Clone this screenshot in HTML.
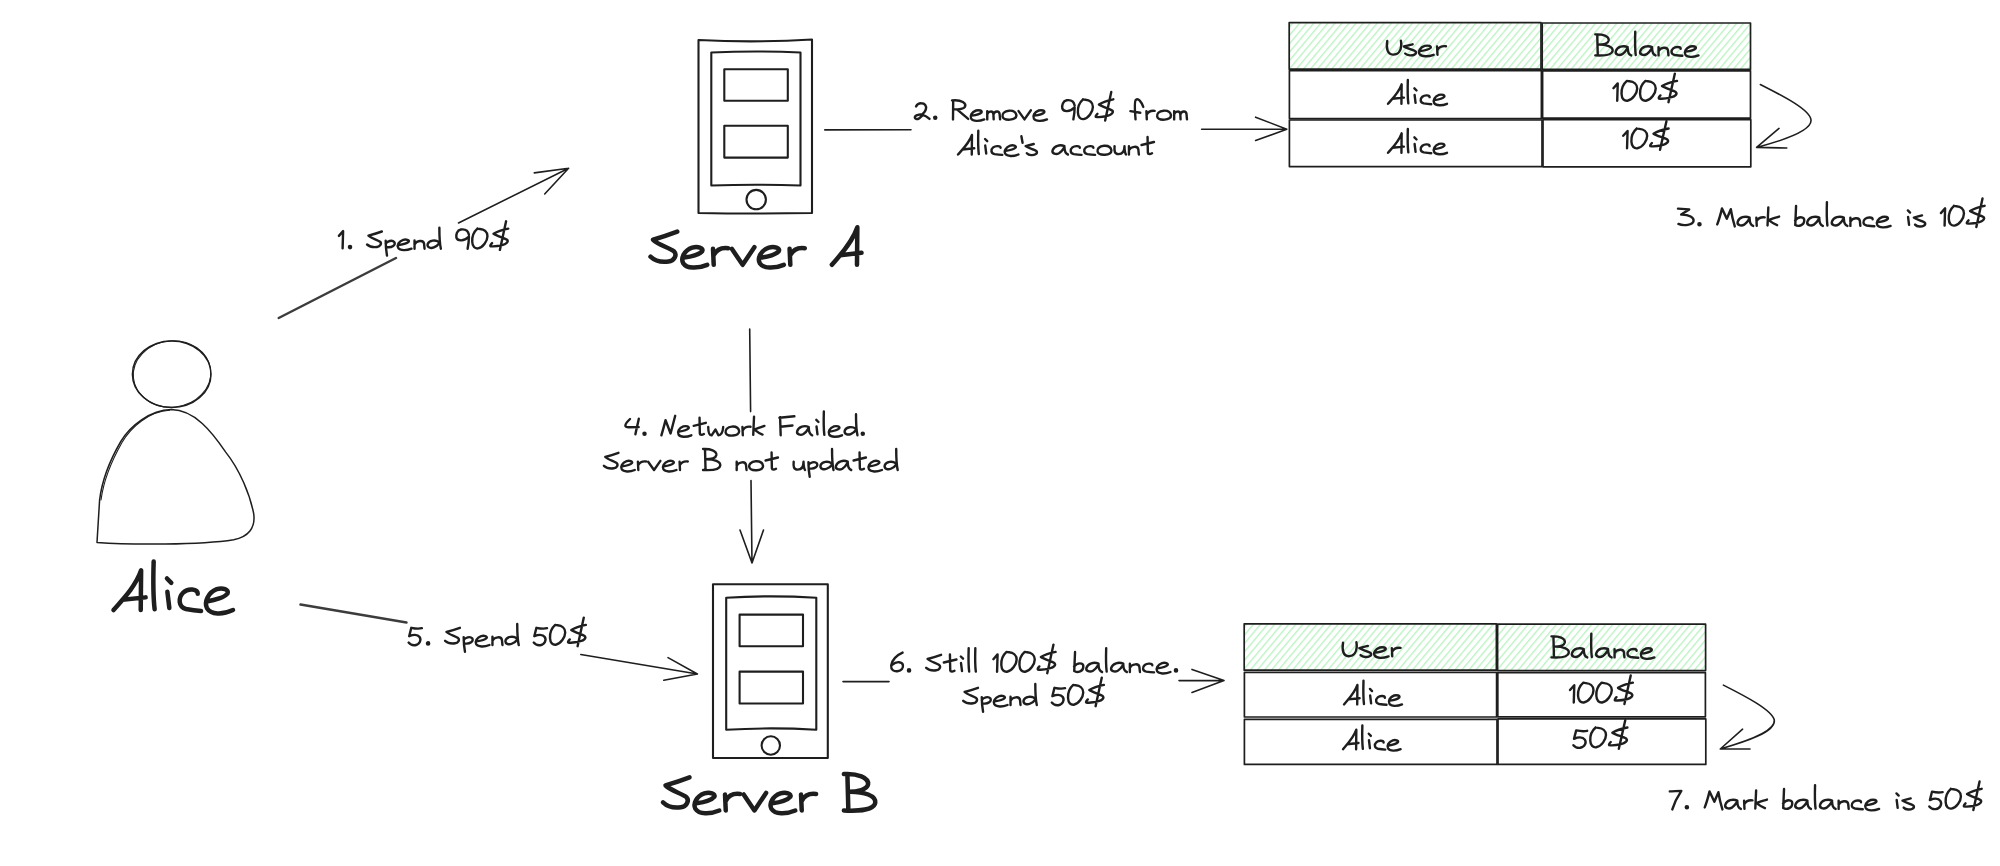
<!DOCTYPE html>
<html>
<head>
<meta charset="utf-8">
<style>
html,body{margin:0;padding:0;background:#fff;}
body{width:2000px;height:866px;overflow:hidden;}
svg{display:block;}
text{font-family:"Liberation Sans",sans-serif;fill:#1e1e1e;}
.t path{vector-effect:non-scaling-stroke;}
</style>
</head>
<body>
<svg width="2000" height="866" viewBox="0 0 2000 866">
<defs>
<pattern id="hach" patternUnits="userSpaceOnUse" width="5.4" height="20" patternTransform="rotate(40)">
<rect x="0" y="0" width="1.4" height="20" fill="#bdf2c4"/>
</pattern>
</defs>
<rect width="2000" height="866" fill="#fff"/>

<!-- ============ shapes ============ -->
<g fill="none" stroke="#1e1e1e" stroke-width="2.1" stroke-linecap="round" stroke-linejoin="round">
<!-- Server A device -->
<path d="M698.5,40 Q755,43 812,39.5 L812,213 Q755,214 698.5,213 Z"/>
<path d="M711.3,52.5 Q756,50.5 800.5,52.5 L800.5,185.5 Q756,184 711.3,185.5 Z"/>
<rect x="724.3" y="69.2" width="63.5" height="31.6"/>
<rect x="724.3" y="125.8" width="63.5" height="31.8"/>
<circle cx="756.2" cy="199.6" r="9.7"/>

<!-- Server B device -->
<path d="M713,584.3 L827.8,584.3 L827.8,758 L713,758 Z"/>
<path d="M726.2,597.7 Q771,595 816.3,597.7 L816.3,729.8 Q771,727 726.2,729.8 Z"/>
<rect x="739.6" y="614.6" width="63.4" height="31.6"/>
<rect x="739.6" y="671.6" width="63.4" height="31.9"/>
<circle cx="770.8" cy="745.5" r="9.2"/>
</g>

<!-- Alice -->
<g fill="none" stroke="#1e1e1e" stroke-width="1.5" stroke-linecap="round" stroke-linejoin="round">
<ellipse cx="171.7" cy="374.2" rx="39.3" ry="33.3"/>
<ellipse cx="172" cy="374" rx="38.8" ry="33.2" transform="rotate(-6 172 374)" stroke-width="1.1"/>
<path d="M171.3,409.6 C150,410 130,426 120.8,441.5 C110,460 102,480 99.6,500 L97,542.4 C130,545 200,545 233.7,539.7 C248,537 256,528 253.6,513.2 C250,495 240,470 225.7,452.1 C212,432 195,410 171.3,409.6 Z"/>
<path d="M169.5,410.3 C149,411.5 131,427 122,442.5 C111.5,461 103.5,481 101,500" stroke-width="1.1"/>
</g>

<!-- Tables -->
<g stroke="#1e1e1e" stroke-width="1.7" stroke-linejoin="round">
<rect x="1289.2" y="22.6" width="251.8" height="46.6" fill="url(#hach)"/>
<rect x="1542.2" y="23.0" width="208.3" height="46.4" fill="url(#hach)"/>
<rect x="1289.4" y="70.6" width="252.0" height="48.0" fill="none"/>
<rect x="1542.6" y="70.8" width="207.9" height="47.4" fill="none"/>
<rect x="1289.4" y="120.0" width="252.6" height="46.6" fill="none"/>
<rect x="1543.0" y="119.6" width="207.8" height="47.2" fill="none"/>
<rect x="1244.2" y="623.8" width="252.2" height="46.4" fill="url(#hach)"/>
<rect x="1497.6" y="624.2" width="208.0" height="46.4" fill="url(#hach)"/>
<rect x="1244.4" y="672.4" width="252.2" height="44.6" fill="none"/>
<rect x="1497.8" y="672.6" width="207.6" height="44.2" fill="none"/>
<rect x="1244.4" y="719.3" width="252.6" height="45.1" fill="none"/>
<rect x="1498.0" y="718.9" width="207.8" height="45.5" fill="none"/>
</g>

<!-- Arrows -->
<g fill="none" stroke="#1e1e1e" stroke-width="1.6" stroke-linecap="round" stroke-linejoin="round">
<!-- 1 -->
<path d="M278.7,318 L396,258" stroke="#3c3c3c" stroke-width="2.5"/>
<path d="M458.5,223 L568.6,168.3 M534.3,172.9 L568.6,168.3 L544.7,194"/>
<!-- 2 -->
<path d="M824.8,129.9 L911,129.7 M1201.6,129.2 L1286.8,129.2 M1255.6,117.2 L1286.8,129.2 L1255.6,140.5"/>
<!-- 3 curved -->
<path d="M1760.3,84.5 C1785,97 1810,110 1811,120 C1812,130 1785,140 1756.6,147.4 M1786.8,148 L1756.6,147.4 L1779,128.4"/>
<!-- 4 -->
<path d="M749.7,329 L750.6,411.6 M751,480.6 L752,563 M740,530 L752,563 L763.5,530"/>
<!-- 5 -->
<path d="M300.5,604.6 L406.5,622.6" stroke="#3c3c3c" stroke-width="2.5"/>
<path d="M580.8,654.5 L697.4,674 M668,657.6 L697.4,674 L663.8,680.3"/>
<!-- 6 -->
<path d="M843,681.6 L889,681.6 M1179,680.6 L1224,680.6 M1192,669.4 L1224,680.6 L1192,692.4"/>
<!-- 7 curved -->
<path d="M1723.4,685.1 C1745,696 1772,710 1774.3,720 C1776,732 1745,742 1720.3,749 M1750,749 L1720.3,749 L1742.6,729.2"/>
</g>

<g class="t" fill="none" stroke="#1e1e1e" stroke-width="2.4" stroke-linecap="round" stroke-linejoin="round">
<g transform="translate(338.50,248.70) scale(1.0017,1.0000)"><path transform="translate(0.00,0)" d="M0.4,-12.8 L4.6,-17.6 L4.1,-0.3"/><path transform="translate(8.00,0)" d="M3.5,-1.6 m-1.1,0 a1.1,1.1 0 1,0 2.2,0 a1.1,1.1 0 1,0 -2.2,0"/><path transform="translate(28.50,0)" d="M14.8,-17.2 C10,-15.5 5,-14 1.4,-13 C4,-10.5 10,-9 13,-7 C15,-5 13,-2 10,-1.7 C7,-1.3 3,-1.5 0,-4.2"/><path transform="translate(45.60,0)" d="M1.5,-7.88 C1.5,-2.49 2,2.49 2.8,6.8 M1.5,-4.98 C3,-7.47 8,-9.13 10,-6.64 C12,-4.15 8,-0.41 2,-1.66"/><path transform="translate(58.60,0)" d="M1.5,-3.73 C5,-4.15 10,-5.39 11.5,-7.05 C12.5,-8.71 9,-9.7 6,-8.9 C1.5,-7.47 -0.5,-3.32 1,-0.83 C3,2.07 9,2.07 14.3,0"/><path transform="translate(74.90,0)" d="M1,-8.3 L1,0 M1,-4.15 C3,-8.3 10,-9.13 10.5,-4.98 L11,0"/><path transform="translate(88.20,0)" d="M12,-6.64 C9,-9.13 2,-8.71 0.8,-4.56 C0,-1.24 4,0 7,-1.24 C9,-2.07 11,-3.32 12,-4.98 M12.5,-21 C12.5,-14 12.8,-4.98 14,0"/><path transform="translate(117.20,0)" d="M13,-14 C12,-19 8,-19.6 5,-19.2 C1,-18.5 0,-14 0.5,-11 C1.5,-7.5 8,-7 13,-12 C13,-8 12.5,-4 11.7,0"/><path transform="translate(133.20,0)" d="M5.5,-20.1 C2,-17 0,-12 0.3,-7 C0.5,-2 3,0 6,-0.3 C11,-1 15.5,-8 15.5,-12.5 C15.5,-17 12,-19.5 8,-19.7 C7,-19.7 6,-19.9 5.5,-20.1"/><path transform="translate(151.20,0)" d="M18.2,-20.1 C13,-19 7,-17 3.6,-14.9 C7,-12.5 14,-11 17,-9 C19,-7 16,-4.5 13,-3.8 C9,-2.8 3,-2 0.5,-2.5 C0,-3 1,-4.5 2.1,-5.6 M16.1,-27.4 L9.9,1.2"/></g>
<g transform="translate(914.00,119.40) scale(0.9873,1.0000)"><path transform="translate(0.00,0)" d="M2.1,-13 C3.5,-15.5 5.5,-16.2 7.3,-16.1 C11,-16 13,-13.5 12,-10 C11.5,-8 10,-6.5 8.7,-5.2 C6,-5 1,-4.5 0.8,-2.2 C0.8,-0.5 3,0 4.5,-0.6 C6.5,-1.5 7.5,-3.5 9,-4.3 C11.5,-4 14,-2 15.7,-0.5"/><path transform="translate(18.00,0)" d="M3.5,-1.6 m-1.1,0 a1.1,1.1 0 1,0 2.2,0 a1.1,1.1 0 1,0 -2.2,0"/><path transform="translate(38.50,0)" d="M1.2,-18.5 L1,0 M0,-19 C10,-20 15,-16 13,-12.5 C11,-10 6,-10 2,-10 M5,-10 L16.4,-0.5"/><path transform="translate(56.90,0)" d="M1.5,-3.73 C5,-4.15 10,-5.39 11.5,-7.05 C12.5,-8.71 9,-9.7 6,-8.9 C1.5,-7.47 -0.5,-3.32 1,-0.83 C3,2.07 9,2.07 14.3,0"/><path transform="translate(73.20,0)" d="M1,-8.3 L1,0 M1,-4.98 C2,-8.3 6.5,-9.13 7.2,-5.39 L7.5,0 M7.5,-5.39 C8.5,-8.3 13,-9.13 13.5,-5.39 L14,0"/><path transform="translate(89.20,0)" d="M7,-8.71 C2,-8.71 0,-4.98 0.5,-2.9 C1,-0.41 5,0.41 8,0.25 C12,0 14.7,-1.66 14.5,-4.15 C14,-7.47 11,-8.96 7,-8.71"/><path transform="translate(105.90,0)" d="M0,-8.3 L6,0 L12.5,-9.13"/><path transform="translate(120.40,0)" d="M1.5,-3.73 C5,-4.15 10,-5.39 11.5,-7.05 C12.5,-8.71 9,-9.7 6,-8.9 C1.5,-7.47 -0.5,-3.32 1,-0.83 C3,2.07 9,2.07 14.3,0"/><path transform="translate(149.70,0)" d="M13,-14 C12,-19 8,-19.6 5,-19.2 C1,-18.5 0,-14 0.5,-11 C1.5,-7.5 8,-7 13,-12 C13,-8 12.5,-4 11.7,0"/><path transform="translate(165.70,0)" d="M5.5,-20.1 C2,-17 0,-12 0.3,-7 C0.5,-2 3,0 6,-0.3 C11,-1 15.5,-8 15.5,-12.5 C15.5,-17 12,-19.5 8,-19.7 C7,-19.7 6,-19.9 5.5,-20.1"/><path transform="translate(183.70,0)" d="M18.2,-20.1 C13,-19 7,-17 3.6,-14.9 C7,-12.5 14,-11 17,-9 C19,-7 16,-4.5 13,-3.8 C9,-2.8 3,-2 0.5,-2.5 C0,-3 1,-4.5 2.1,-5.6 M16.1,-27.4 L9.9,1.2"/><path transform="translate(219.20,0)" d="M13,-12.5 C11,-18 8,-21.5 5.5,-19.5 C4,-18 4.5,-8.3 5.2,0 M0,-8.22 L10,-6.64"/><path transform="translate(234.20,0)" d="M1.2,-8.3 L1.6,0 M1.6,-4.98 C3,-7.47 5,-9.13 9.6,-8.55"/><path transform="translate(245.80,0)" d="M7,-8.71 C2,-8.71 0,-4.98 0.5,-2.9 C1,-0.41 5,0.41 8,0.25 C12,0 14.7,-1.66 14.5,-4.15 C14,-7.47 11,-8.96 7,-8.71"/><path transform="translate(262.50,0)" d="M1,-8.3 L1,0 M1,-4.98 C2,-8.3 6.5,-9.13 7.2,-5.39 L7.5,0 M7.5,-5.39 C8.5,-8.3 13,-9.13 13.5,-5.39 L14,0"/></g>
<g transform="translate(958.00,154.50) scale(0.9904,1.0000)"><path transform="translate(0.00,0)" d="M0,0 C4,-4.5 11,-11 14.1,-19.5 L13.9,0 M4.6,-5 L16.4,-6.2"/><path transform="translate(18.40,0)" d="M2.1,-23.8 C1.8,-14 2,-4.98 2.6,-0.41"/><path transform="translate(25.00,0)" d="M2.3,-15.5 L4.5,-13.3 M2.5,-8.96 L3.5,-1"/><path transform="translate(33.00,0)" d="M10,-6.64 C10,-8.71 5,-9.13 2.5,-7.05 C0,-4.98 0,-1.24 4,-0.41 C7,0 9.5,0.25 11.7,0.41"/><path transform="translate(46.70,0)" d="M1.5,-3.73 C5,-4.15 10,-5.39 11.5,-7.05 C12.5,-8.71 9,-9.7 6,-8.9 C1.5,-7.47 -0.5,-3.32 1,-0.83 C3,2.07 9,2.07 14.3,0"/><path transform="translate(63.00,0)" d="M1,-18.2 L2.2,-11.7"/><path transform="translate(68.00,0)" d="M8.5,-10.5 C6,-9.8 3,-9 0.3,-8.3 C3,-6 10,-5 11.5,-3 C12.5,-0.5 9,0.8 6,0.6 C4,0.5 2.5,-0.2 1.5,-1.3"/><path transform="translate(95.00,0)" d="M12.5,-8.3 C8,-10.3 2,-8.8 0.5,-4.15 C-0.5,-0.83 4,0.41 7,-1.24 C9,-2.49 11,-4.98 12.5,-7.47 C12.5,-4.15 13.5,-0.83 16,0"/><path transform="translate(113.00,0)" d="M10,-6.64 C10,-8.71 5,-9.13 2.5,-7.05 C0,-4.98 0,-1.24 4,-0.41 C7,0 9.5,0.25 11.7,0.41"/><path transform="translate(126.70,0)" d="M10,-6.64 C10,-8.71 5,-9.13 2.5,-7.05 C0,-4.98 0,-1.24 4,-0.41 C7,0 9.5,0.25 11.7,0.41"/><path transform="translate(140.40,0)" d="M7,-8.71 C2,-8.71 0,-4.98 0.5,-2.9 C1,-0.41 5,0.41 8,0.25 C12,0 14.7,-1.66 14.5,-4.15 C14,-7.47 11,-8.96 7,-8.71"/><path transform="translate(157.10,0)" d="M1,-8.3 C0.5,-3.32 1,-0.41 5,-0.41 C9,-0.41 11,-3.32 11,-8.3 C11,-4.98 11.5,-1.66 12.5,0"/><path transform="translate(171.60,0)" d="M1,-8.3 L1,0 M1,-4.15 C3,-8.3 10,-9.13 10.5,-4.98 L11,0"/><path transform="translate(184.90,0)" d="M6.5,-17.5 L6.8,-1.66 C7,0 9.5,-0.41 11,-1.24 M0.4,-9.5 L13,-12.5"/></g>
<g transform="translate(1677.60,225.90) scale(0.9981,1.0000)"><path transform="translate(0.00,0)" d="M0.4,-17.3 L11.6,-16.5 L3.6,-11.3 C12,-11.5 16.4,-8 16,-5 C15.5,-1 6,0.5 0.8,-2"/><path transform="translate(18.40,0)" d="M3.5,-1.6 m-1.1,0 a1.1,1.1 0 1,0 2.2,0 a1.1,1.1 0 1,0 -2.2,0"/><path transform="translate(38.90,0)" d="M0.8,-1.5 C3,-7 4.5,-13 5.6,-17.5 L10.4,-7.1 L14.4,-16.7 C15.5,-10 17,-4 18.4,0.5"/><path transform="translate(59.70,0)" d="M12.5,-8.3 C8,-10.3 2,-8.8 0.5,-4.15 C-0.5,-0.83 4,0.41 7,-1.24 C9,-2.49 11,-4.98 12.5,-7.47 C12.5,-4.15 13.5,-0.83 16,0"/><path transform="translate(77.70,0)" d="M1.2,-8.3 L1.6,0 M1.6,-4.98 C3,-7.47 5,-9.13 9.6,-8.55"/><path transform="translate(89.30,0)" d="M1.6,-18.5 L0.8,-0.41 M12.4,-9.38 C8,-7.88 4,-6.64 2,-5.73 C5,-3.32 8,-1.66 10.4,-0.75"/><path transform="translate(116.70,0)" d="M2,-20 L1.2,-0.83 M1,-5.39 C3,-7.88 6,-9.13 8.5,-8.3 C11,-7.47 11,-1.66 6.5,-0.41 C4,0.41 2,-0.41 1.2,-1.24"/><path transform="translate(129.50,0)" d="M12.5,-8.3 C8,-10.3 2,-8.8 0.5,-4.15 C-0.5,-0.83 4,0.41 7,-1.24 C9,-2.49 11,-4.98 12.5,-7.47 C12.5,-4.15 13.5,-0.83 16,0"/><path transform="translate(147.50,0)" d="M2.1,-23.8 C1.8,-14 2,-4.98 2.6,-0.41"/><path transform="translate(154.10,0)" d="M12.5,-8.3 C8,-10.3 2,-8.8 0.5,-4.15 C-0.5,-0.83 4,0.41 7,-1.24 C9,-2.49 11,-4.98 12.5,-7.47 C12.5,-4.15 13.5,-0.83 16,0"/><path transform="translate(172.10,0)" d="M1,-8.3 L1,0 M1,-4.15 C3,-8.3 10,-9.13 10.5,-4.98 L11,0"/><path transform="translate(185.40,0)" d="M10,-6.64 C10,-8.71 5,-9.13 2.5,-7.05 C0,-4.98 0,-1.24 4,-0.41 C7,0 9.5,0.25 11.7,0.41"/><path transform="translate(199.10,0)" d="M1.5,-3.73 C5,-4.15 10,-5.39 11.5,-7.05 C12.5,-8.71 9,-9.7 6,-8.9 C1.5,-7.47 -0.5,-3.32 1,-0.83 C3,2.07 9,2.07 14.3,0"/><path transform="translate(228.40,0)" d="M2.3,-15.5 L4.5,-13.3 M2.5,-8.96 L3.5,-1"/><path transform="translate(236.40,0)" d="M8.5,-10.5 C6,-9.8 3,-9 0.3,-8.3 C3,-6 10,-5 11.5,-3 C12.5,-0.5 9,0.8 6,0.6 C4,0.5 2.5,-0.2 1.5,-1.3"/><path transform="translate(263.40,0)" d="M0.4,-12.8 L4.6,-17.6 L4.1,-0.3"/><path transform="translate(271.40,0)" d="M5.5,-20.1 C2,-17 0,-12 0.3,-7 C0.5,-2 3,0 6,-0.3 C11,-1 15.5,-8 15.5,-12.5 C15.5,-17 12,-19.5 8,-19.7 C7,-19.7 6,-19.9 5.5,-20.1"/><path transform="translate(289.40,0)" d="M18.2,-20.1 C13,-19 7,-17 3.6,-14.9 C7,-12.5 14,-11 17,-9 C19,-7 16,-4.5 13,-3.8 C9,-2.8 3,-2 0.5,-2.5 C0,-3 1,-4.5 2.1,-5.6 M16.1,-27.4 L9.9,1.2"/></g>
<g transform="translate(624.70,435.30) scale(0.9658,1.0000)"><path transform="translate(0.00,0)" d="M5.5,-16.3 C3,-14 0.5,-11.5 0.7,-9.5 C1,-8 2,-8 4,-8 L14.5,-8.2 M14.6,-16.6 C13.5,-11 12,-6 11.1,-1"/><path transform="translate(17.00,0)" d="M3.5,-1.6 m-1.1,0 a1.1,1.1 0 1,0 2.2,0 a1.1,1.1 0 1,0 -2.2,0"/><path transform="translate(37.50,0)" d="M0.5,0 C2,-5 3.5,-10 4.8,-15.2 L10,-1.8 L14.8,-19.5"/><path transform="translate(54.70,0)" d="M1.5,-3.73 C5,-4.15 10,-5.39 11.5,-7.05 C12.5,-8.71 9,-9.7 6,-8.9 C1.5,-7.47 -0.5,-3.32 1,-0.83 C3,2.07 9,2.07 14.3,0"/><path transform="translate(71.00,0)" d="M6.5,-17.5 L6.8,-1.66 C7,0 9.5,-0.41 11,-1.24 M0.4,-9.5 L13,-12.5"/><path transform="translate(86.00,0)" d="M0.5,-8.3 C0.5,-3.32 1,0 4,0 L8,-5.81 L11,0 C14,0 15.5,-2.49 16,-8.3"/><path transform="translate(104.00,0)" d="M7,-8.71 C2,-8.71 0,-4.98 0.5,-2.9 C1,-0.41 5,0.41 8,0.25 C12,0 14.7,-1.66 14.5,-4.15 C14,-7.47 11,-8.96 7,-8.71"/><path transform="translate(120.70,0)" d="M1.2,-8.3 L1.6,0 M1.6,-4.98 C3,-7.47 5,-9.13 9.6,-8.55"/><path transform="translate(132.30,0)" d="M1.6,-18.5 L0.8,-0.41 M12.4,-9.38 C8,-7.88 4,-6.64 2,-5.73 C5,-3.32 8,-1.66 10.4,-0.75"/><path transform="translate(159.70,0)" d="M1.2,-18 L1.8,0 M0.5,-17.5 L16,-19 M1.6,-8.5 L14,-9.8"/><path transform="translate(178.10,0)" d="M12.5,-8.3 C8,-10.3 2,-8.8 0.5,-4.15 C-0.5,-0.83 4,0.41 7,-1.24 C9,-2.49 11,-4.98 12.5,-7.47 C12.5,-4.15 13.5,-0.83 16,0"/><path transform="translate(196.10,0)" d="M2.3,-15.5 L4.5,-13.3 M2.5,-8.96 L3.5,-1"/><path transform="translate(204.10,0)" d="M2.1,-23.8 C1.8,-14 2,-4.98 2.6,-0.41"/><path transform="translate(210.70,0)" d="M1.5,-3.73 C5,-4.15 10,-5.39 11.5,-7.05 C12.5,-8.71 9,-9.7 6,-8.9 C1.5,-7.47 -0.5,-3.32 1,-0.83 C3,2.07 9,2.07 14.3,0"/><path transform="translate(227.00,0)" d="M12,-6.64 C9,-9.13 2,-8.71 0.8,-4.56 C0,-1.24 4,0 7,-1.24 C9,-2.07 11,-3.32 12,-4.98 M12.5,-21 C12.5,-14 12.8,-4.98 14,0"/><path transform="translate(243.00,0)" d="M3.5,-1.6 m-1.1,0 a1.1,1.1 0 1,0 2.2,0 a1.1,1.1 0 1,0 -2.2,0"/></g>
<g transform="translate(603.90,470.00) scale(0.9829,1.0000)"><path transform="translate(0.00,0)" d="M14.8,-17.2 C10,-15.5 5,-14 1.4,-13 C4,-10.5 10,-9 13,-7 C15,-5 13,-2 10,-1.7 C7,-1.3 3,-1.5 0,-4.2"/><path transform="translate(17.10,0)" d="M1.5,-3.73 C5,-4.15 10,-5.39 11.5,-7.05 C12.5,-8.71 9,-9.7 6,-8.9 C1.5,-7.47 -0.5,-3.32 1,-0.83 C3,2.07 9,2.07 14.3,0"/><path transform="translate(33.40,0)" d="M1.2,-8.3 L1.6,0 M1.6,-4.98 C3,-7.47 5,-9.13 9.6,-8.55"/><path transform="translate(45.00,0)" d="M0,-8.3 L6,0 L12.5,-9.13"/><path transform="translate(59.50,0)" d="M1.5,-3.73 C5,-4.15 10,-5.39 11.5,-7.05 C12.5,-8.71 9,-9.7 6,-8.9 C1.5,-7.47 -0.5,-3.32 1,-0.83 C3,2.07 9,2.07 14.3,0"/><path transform="translate(75.80,0)" d="M1.2,-8.3 L1.6,0 M1.6,-4.98 C3,-7.47 5,-9.13 9.6,-8.55"/><path transform="translate(100.40,0)" d="M2.5,-19.5 L3,0 M0.5,-21 C8,-21.5 14.5,-19 14,-15 C13.5,-12 8,-10.8 3,-10.8 C12,-11 18.5,-8.5 18,-4.5 C17.5,-0.5 9,0.5 0.5,0"/><path transform="translate(134.10,0)" d="M1,-8.3 L1,0 M1,-4.15 C3,-8.3 10,-9.13 10.5,-4.98 L11,0"/><path transform="translate(147.40,0)" d="M7,-8.71 C2,-8.71 0,-4.98 0.5,-2.9 C1,-0.41 5,0.41 8,0.25 C12,0 14.7,-1.66 14.5,-4.15 C14,-7.47 11,-8.96 7,-8.71"/><path transform="translate(164.10,0)" d="M6.5,-17.5 L6.8,-1.66 C7,0 9.5,-0.41 11,-1.24 M0.4,-9.5 L13,-12.5"/><path transform="translate(192.10,0)" d="M1,-8.3 C0.5,-3.32 1,-0.41 5,-0.41 C9,-0.41 11,-3.32 11,-8.3 C11,-4.98 11.5,-1.66 12.5,0"/><path transform="translate(206.60,0)" d="M1.5,-7.88 C1.5,-2.49 2,2.49 2.8,6.8 M1.5,-4.98 C3,-7.47 8,-9.13 10,-6.64 C12,-4.15 8,-0.41 2,-1.66"/><path transform="translate(219.60,0)" d="M12,-6.64 C9,-9.13 2,-8.71 0.8,-4.56 C0,-1.24 4,0 7,-1.24 C9,-2.07 11,-3.32 12,-4.98 M12.5,-21 C12.5,-14 12.8,-4.98 14,0"/><path transform="translate(235.60,0)" d="M12.5,-8.3 C8,-10.3 2,-8.8 0.5,-4.15 C-0.5,-0.83 4,0.41 7,-1.24 C9,-2.49 11,-4.98 12.5,-7.47 C12.5,-4.15 13.5,-0.83 16,0"/><path transform="translate(253.60,0)" d="M6.5,-17.5 L6.8,-1.66 C7,0 9.5,-0.41 11,-1.24 M0.4,-9.5 L13,-12.5"/><path transform="translate(268.60,0)" d="M1.5,-3.73 C5,-4.15 10,-5.39 11.5,-7.05 C12.5,-8.71 9,-9.7 6,-8.9 C1.5,-7.47 -0.5,-3.32 1,-0.83 C3,2.07 9,2.07 14.3,0"/><path transform="translate(284.90,0)" d="M12,-6.64 C9,-9.13 2,-8.71 0.8,-4.56 C0,-1.24 4,0 7,-1.24 C9,-2.07 11,-3.32 12,-4.98 M12.5,-21 C12.5,-14 12.8,-4.98 14,0"/></g>
<g transform="translate(408.60,645.00) scale(0.9994,1.0000)"><path transform="translate(0.00,0)" d="M13.3,-16.8 C10,-16 6,-16.5 2.7,-17.2 L0.6,-8.8 C4,-10.3 9,-11 11,-8 C13,-5 11,-0.5 6.5,0.2 C4,0.5 1.5,-0.5 0,-2.4"/><path transform="translate(16.00,0)" d="M3.5,-1.6 m-1.1,0 a1.1,1.1 0 1,0 2.2,0 a1.1,1.1 0 1,0 -2.2,0"/><path transform="translate(36.50,0)" d="M14.8,-17.2 C10,-15.5 5,-14 1.4,-13 C4,-10.5 10,-9 13,-7 C15,-5 13,-2 10,-1.7 C7,-1.3 3,-1.5 0,-4.2"/><path transform="translate(53.60,0)" d="M1.5,-7.88 C1.5,-2.49 2,2.49 2.8,6.8 M1.5,-4.98 C3,-7.47 8,-9.13 10,-6.64 C12,-4.15 8,-0.41 2,-1.66"/><path transform="translate(66.60,0)" d="M1.5,-3.73 C5,-4.15 10,-5.39 11.5,-7.05 C12.5,-8.71 9,-9.7 6,-8.9 C1.5,-7.47 -0.5,-3.32 1,-0.83 C3,2.07 9,2.07 14.3,0"/><path transform="translate(82.90,0)" d="M1,-8.3 L1,0 M1,-4.15 C3,-8.3 10,-9.13 10.5,-4.98 L11,0"/><path transform="translate(96.20,0)" d="M12,-6.64 C9,-9.13 2,-8.71 0.8,-4.56 C0,-1.24 4,0 7,-1.24 C9,-2.07 11,-3.32 12,-4.98 M12.5,-21 C12.5,-14 12.8,-4.98 14,0"/><path transform="translate(125.20,0)" d="M13.3,-16.8 C10,-16 6,-16.5 2.7,-17.2 L0.6,-8.8 C4,-10.3 9,-11 11,-8 C13,-5 11,-0.5 6.5,0.2 C4,0.5 1.5,-0.5 0,-2.4"/><path transform="translate(141.20,0)" d="M5.5,-20.1 C2,-17 0,-12 0.3,-7 C0.5,-2 3,0 6,-0.3 C11,-1 15.5,-8 15.5,-12.5 C15.5,-17 12,-19.5 8,-19.7 C7,-19.7 6,-19.9 5.5,-20.1"/><path transform="translate(159.20,0)" d="M18.2,-20.1 C13,-19 7,-17 3.6,-14.9 C7,-12.5 14,-11 17,-9 C19,-7 16,-4.5 13,-3.8 C9,-2.8 3,-2 0.5,-2.5 C0,-3 1,-4.5 2.1,-5.6 M16.1,-27.4 L9.9,1.2"/></g>
<g transform="translate(890.80,672.00) scale(1.0074,1.0000)"><path transform="translate(0.00,0)" d="M11.7,-19.4 C6,-17 1,-12 0.4,-6.5 C0,-2 3,-0.5 6.5,-0.8 C11,-1.2 12.5,-4 12,-7 C11.5,-10 6,-11.5 1.3,-7"/><path transform="translate(14.60,0)" d="M3.5,-1.6 m-1.1,0 a1.1,1.1 0 1,0 2.2,0 a1.1,1.1 0 1,0 -2.2,0"/><path transform="translate(35.10,0)" d="M14.8,-17.2 C10,-15.5 5,-14 1.4,-13 C4,-10.5 10,-9 13,-7 C15,-5 13,-2 10,-1.7 C7,-1.3 3,-1.5 0,-4.2"/><path transform="translate(52.20,0)" d="M6.5,-17.5 L6.8,-1.66 C7,0 9.5,-0.41 11,-1.24 M0.4,-9.5 L13,-12.5"/><path transform="translate(67.20,0)" d="M2.3,-15.5 L4.5,-13.3 M2.5,-8.96 L3.5,-1"/><path transform="translate(75.20,0)" d="M2.1,-23.8 C1.8,-14 2,-4.98 2.6,-0.41"/><path transform="translate(81.80,0)" d="M2.1,-23.8 C1.8,-14 2,-4.98 2.6,-0.41"/><path transform="translate(101.40,0)" d="M0.4,-12.8 L4.6,-17.6 L4.1,-0.3"/><path transform="translate(109.40,0)" d="M5.5,-20.1 C2,-17 0,-12 0.3,-7 C0.5,-2 3,0 6,-0.3 C11,-1 15.5,-8 15.5,-12.5 C15.5,-17 12,-19.5 8,-19.7 C7,-19.7 6,-19.9 5.5,-20.1"/><path transform="translate(127.40,0)" d="M5.5,-20.1 C2,-17 0,-12 0.3,-7 C0.5,-2 3,0 6,-0.3 C11,-1 15.5,-8 15.5,-12.5 C15.5,-17 12,-19.5 8,-19.7 C7,-19.7 6,-19.9 5.5,-20.1"/><path transform="translate(145.40,0)" d="M18.2,-20.1 C13,-19 7,-17 3.6,-14.9 C7,-12.5 14,-11 17,-9 C19,-7 16,-4.5 13,-3.8 C9,-2.8 3,-2 0.5,-2.5 C0,-3 1,-4.5 2.1,-5.6 M16.1,-27.4 L9.9,1.2"/><path transform="translate(180.90,0)" d="M2,-20 L1.2,-0.83 M1,-5.39 C3,-7.88 6,-9.13 8.5,-8.3 C11,-7.47 11,-1.66 6.5,-0.41 C4,0.41 2,-0.41 1.2,-1.24"/><path transform="translate(193.70,0)" d="M12.5,-8.3 C8,-10.3 2,-8.8 0.5,-4.15 C-0.5,-0.83 4,0.41 7,-1.24 C9,-2.49 11,-4.98 12.5,-7.47 C12.5,-4.15 13.5,-0.83 16,0"/><path transform="translate(211.70,0)" d="M2.1,-23.8 C1.8,-14 2,-4.98 2.6,-0.41"/><path transform="translate(218.30,0)" d="M12.5,-8.3 C8,-10.3 2,-8.8 0.5,-4.15 C-0.5,-0.83 4,0.41 7,-1.24 C9,-2.49 11,-4.98 12.5,-7.47 C12.5,-4.15 13.5,-0.83 16,0"/><path transform="translate(236.30,0)" d="M1,-8.3 L1,0 M1,-4.15 C3,-8.3 10,-9.13 10.5,-4.98 L11,0"/><path transform="translate(249.60,0)" d="M10,-6.64 C10,-8.71 5,-9.13 2.5,-7.05 C0,-4.98 0,-1.24 4,-0.41 C7,0 9.5,0.25 11.7,0.41"/><path transform="translate(263.30,0)" d="M1.5,-3.73 C5,-4.15 10,-5.39 11.5,-7.05 C12.5,-8.71 9,-9.7 6,-8.9 C1.5,-7.47 -0.5,-3.32 1,-0.83 C3,2.07 9,2.07 14.3,0"/><path transform="translate(279.60,0)" d="M3.5,-1.6 m-1.1,0 a1.1,1.1 0 1,0 2.2,0 a1.1,1.1 0 1,0 -2.2,0"/></g>
<g transform="translate(963.20,705.00) scale(0.9986,1.0000)"><path transform="translate(0.00,0)" d="M14.8,-17.2 C10,-15.5 5,-14 1.4,-13 C4,-10.5 10,-9 13,-7 C15,-5 13,-2 10,-1.7 C7,-1.3 3,-1.5 0,-4.2"/><path transform="translate(17.10,0)" d="M1.5,-7.88 C1.5,-2.49 2,2.49 2.8,6.8 M1.5,-4.98 C3,-7.47 8,-9.13 10,-6.64 C12,-4.15 8,-0.41 2,-1.66"/><path transform="translate(30.10,0)" d="M1.5,-3.73 C5,-4.15 10,-5.39 11.5,-7.05 C12.5,-8.71 9,-9.7 6,-8.9 C1.5,-7.47 -0.5,-3.32 1,-0.83 C3,2.07 9,2.07 14.3,0"/><path transform="translate(46.40,0)" d="M1,-8.3 L1,0 M1,-4.15 C3,-8.3 10,-9.13 10.5,-4.98 L11,0"/><path transform="translate(59.70,0)" d="M12,-6.64 C9,-9.13 2,-8.71 0.8,-4.56 C0,-1.24 4,0 7,-1.24 C9,-2.07 11,-3.32 12,-4.98 M12.5,-21 C12.5,-14 12.8,-4.98 14,0"/><path transform="translate(88.70,0)" d="M13.3,-16.8 C10,-16 6,-16.5 2.7,-17.2 L0.6,-8.8 C4,-10.3 9,-11 11,-8 C13,-5 11,-0.5 6.5,0.2 C4,0.5 1.5,-0.5 0,-2.4"/><path transform="translate(104.70,0)" d="M5.5,-20.1 C2,-17 0,-12 0.3,-7 C0.5,-2 3,0 6,-0.3 C11,-1 15.5,-8 15.5,-12.5 C15.5,-17 12,-19.5 8,-19.7 C7,-19.7 6,-19.9 5.5,-20.1"/><path transform="translate(122.70,0)" d="M18.2,-20.1 C13,-19 7,-17 3.6,-14.9 C7,-12.5 14,-11 17,-9 C19,-7 16,-4.5 13,-3.8 C9,-2.8 3,-2 0.5,-2.5 C0,-3 1,-4.5 2.1,-5.6 M16.1,-27.4 L9.9,1.2"/></g>
<g transform="translate(1669.30,808.90) scale(1.0038,1.0000)"><path transform="translate(0.00,0)" d="M0.5,-17.5 C4,-17.5 8,-18 12,-18 C8,-12 5,-6 3,0.5"/><path transform="translate(14.00,0)" d="M3.5,-1.6 m-1.1,0 a1.1,1.1 0 1,0 2.2,0 a1.1,1.1 0 1,0 -2.2,0"/><path transform="translate(34.50,0)" d="M0.8,-1.5 C3,-7 4.5,-13 5.6,-17.5 L10.4,-7.1 L14.4,-16.7 C15.5,-10 17,-4 18.4,0.5"/><path transform="translate(55.30,0)" d="M12.5,-8.3 C8,-10.3 2,-8.8 0.5,-4.15 C-0.5,-0.83 4,0.41 7,-1.24 C9,-2.49 11,-4.98 12.5,-7.47 C12.5,-4.15 13.5,-0.83 16,0"/><path transform="translate(73.30,0)" d="M1.2,-8.3 L1.6,0 M1.6,-4.98 C3,-7.47 5,-9.13 9.6,-8.55"/><path transform="translate(84.90,0)" d="M1.6,-18.5 L0.8,-0.41 M12.4,-9.38 C8,-7.88 4,-6.64 2,-5.73 C5,-3.32 8,-1.66 10.4,-0.75"/><path transform="translate(112.30,0)" d="M2,-20 L1.2,-0.83 M1,-5.39 C3,-7.88 6,-9.13 8.5,-8.3 C11,-7.47 11,-1.66 6.5,-0.41 C4,0.41 2,-0.41 1.2,-1.24"/><path transform="translate(125.10,0)" d="M12.5,-8.3 C8,-10.3 2,-8.8 0.5,-4.15 C-0.5,-0.83 4,0.41 7,-1.24 C9,-2.49 11,-4.98 12.5,-7.47 C12.5,-4.15 13.5,-0.83 16,0"/><path transform="translate(143.10,0)" d="M2.1,-23.8 C1.8,-14 2,-4.98 2.6,-0.41"/><path transform="translate(149.70,0)" d="M12.5,-8.3 C8,-10.3 2,-8.8 0.5,-4.15 C-0.5,-0.83 4,0.41 7,-1.24 C9,-2.49 11,-4.98 12.5,-7.47 C12.5,-4.15 13.5,-0.83 16,0"/><path transform="translate(167.70,0)" d="M1,-8.3 L1,0 M1,-4.15 C3,-8.3 10,-9.13 10.5,-4.98 L11,0"/><path transform="translate(181.00,0)" d="M10,-6.64 C10,-8.71 5,-9.13 2.5,-7.05 C0,-4.98 0,-1.24 4,-0.41 C7,0 9.5,0.25 11.7,0.41"/><path transform="translate(194.70,0)" d="M1.5,-3.73 C5,-4.15 10,-5.39 11.5,-7.05 C12.5,-8.71 9,-9.7 6,-8.9 C1.5,-7.47 -0.5,-3.32 1,-0.83 C3,2.07 9,2.07 14.3,0"/><path transform="translate(224.00,0)" d="M2.3,-15.5 L4.5,-13.3 M2.5,-8.96 L3.5,-1"/><path transform="translate(232.00,0)" d="M8.5,-10.5 C6,-9.8 3,-9 0.3,-8.3 C3,-6 10,-5 11.5,-3 C12.5,-0.5 9,0.8 6,0.6 C4,0.5 2.5,-0.2 1.5,-1.3"/><path transform="translate(259.00,0)" d="M13.3,-16.8 C10,-16 6,-16.5 2.7,-17.2 L0.6,-8.8 C4,-10.3 9,-11 11,-8 C13,-5 11,-0.5 6.5,0.2 C4,0.5 1.5,-0.5 0,-2.4"/><path transform="translate(275.00,0)" d="M5.5,-20.1 C2,-17 0,-12 0.3,-7 C0.5,-2 3,0 6,-0.3 C11,-1 15.5,-8 15.5,-12.5 C15.5,-17 12,-19.5 8,-19.7 C7,-19.7 6,-19.9 5.5,-20.1"/><path transform="translate(293.00,0)" d="M18.2,-20.1 C13,-19 7,-17 3.6,-14.9 C7,-12.5 14,-11 17,-9 C19,-7 16,-4.5 13,-3.8 C9,-2.8 3,-2 0.5,-2.5 C0,-3 1,-4.5 2.1,-5.6 M16.1,-27.4 L9.9,1.2"/></g>
<g transform="translate(1386.00,54.80) scale(1.0638,1.0000)"><path transform="translate(0.00,0)" d="M1.2,-13.8 C0,-6 1.5,-0.3 6.5,-0.2 C12,0 14,-5 14.3,-9 C14.5,-11 14.2,-13 14,-14.2"/><path transform="translate(16.50,0)" d="M8.5,-10.5 C6,-9.8 3,-9 0.3,-8.3 C3,-6 10,-5 11.5,-3 C12.5,-0.5 9,0.8 6,0.6 C4,0.5 2.5,-0.2 1.5,-1.3"/><path transform="translate(30.50,0)" d="M1.5,-3.73 C5,-4.15 10,-5.39 11.5,-7.05 C12.5,-8.71 9,-9.7 6,-8.9 C1.5,-7.47 -0.5,-3.32 1,-0.83 C3,2.07 9,2.07 14.3,0"/><path transform="translate(46.80,0)" d="M1.2,-8.3 L1.6,0 M1.6,-4.98 C3,-7.47 5,-9.13 9.6,-8.55"/></g>
<g transform="translate(1594.80,55.40) scale(0.9914,1.0000)"><path transform="translate(0.00,0)" d="M2.5,-19.5 L3,0 M0.5,-21 C8,-21.5 14.5,-19 14,-15 C13.5,-12 8,-10.8 3,-10.8 C12,-11 18.5,-8.5 18,-4.5 C17.5,-0.5 9,0.5 0.5,0"/><path transform="translate(20.70,0)" d="M12.5,-8.3 C8,-10.3 2,-8.8 0.5,-4.15 C-0.5,-0.83 4,0.41 7,-1.24 C9,-2.49 11,-4.98 12.5,-7.47 C12.5,-4.15 13.5,-0.83 16,0"/><path transform="translate(38.70,0)" d="M2.1,-23.8 C1.8,-14 2,-4.98 2.6,-0.41"/><path transform="translate(45.30,0)" d="M12.5,-8.3 C8,-10.3 2,-8.8 0.5,-4.15 C-0.5,-0.83 4,0.41 7,-1.24 C9,-2.49 11,-4.98 12.5,-7.47 C12.5,-4.15 13.5,-0.83 16,0"/><path transform="translate(63.30,0)" d="M1,-8.3 L1,0 M1,-4.15 C3,-8.3 10,-9.13 10.5,-4.98 L11,0"/><path transform="translate(76.60,0)" d="M10,-6.64 C10,-8.71 5,-9.13 2.5,-7.05 C0,-4.98 0,-1.24 4,-0.41 C7,0 9.5,0.25 11.7,0.41"/><path transform="translate(90.30,0)" d="M1.5,-3.73 C5,-4.15 10,-5.39 11.5,-7.05 C12.5,-8.71 9,-9.7 6,-8.9 C1.5,-7.47 -0.5,-3.32 1,-0.83 C3,2.07 9,2.07 14.3,0"/></g>
<g transform="translate(1388.00,103.80) scale(0.9672,1.0000)"><path transform="translate(0.00,0)" d="M0,0 C4,-4.5 11,-11 14.1,-19.5 L13.9,0 M4.6,-5 L16.4,-6.2"/><path transform="translate(18.40,0)" d="M2.1,-23.8 C1.8,-14 2,-4.98 2.6,-0.41"/><path transform="translate(25.00,0)" d="M2.3,-15.5 L4.5,-13.3 M2.5,-8.96 L3.5,-1"/><path transform="translate(33.00,0)" d="M10,-6.64 C10,-8.71 5,-9.13 2.5,-7.05 C0,-4.98 0,-1.24 4,-0.41 C7,0 9.5,0.25 11.7,0.41"/><path transform="translate(46.70,0)" d="M1.5,-3.73 C5,-4.15 10,-5.39 11.5,-7.05 C12.5,-8.71 9,-9.7 6,-8.9 C1.5,-7.47 -0.5,-3.32 1,-0.83 C3,2.07 9,2.07 14.3,0"/></g>
<g transform="translate(1613.00,101.00) scale(1.0295,1.0000)"><path transform="translate(0.00,0)" d="M0.4,-12.8 L4.6,-17.6 L4.1,-0.3"/><path transform="translate(8.00,0)" d="M5.5,-20.1 C2,-17 0,-12 0.3,-7 C0.5,-2 3,0 6,-0.3 C11,-1 15.5,-8 15.5,-12.5 C15.5,-17 12,-19.5 8,-19.7 C7,-19.7 6,-19.9 5.5,-20.1"/><path transform="translate(26.00,0)" d="M5.5,-20.1 C2,-17 0,-12 0.3,-7 C0.5,-2 3,0 6,-0.3 C11,-1 15.5,-8 15.5,-12.5 C15.5,-17 12,-19.5 8,-19.7 C7,-19.7 6,-19.9 5.5,-20.1"/><path transform="translate(44.00,0)" d="M18.2,-20.1 C13,-19 7,-17 3.6,-14.9 C7,-12.5 14,-11 17,-9 C19,-7 16,-4.5 13,-3.8 C9,-2.8 3,-2 0.5,-2.5 C0,-3 1,-4.5 2.1,-5.6 M16.1,-27.4 L9.9,1.2"/></g>
<g transform="translate(1388.00,152.80) scale(0.9672,1.0000)"><path transform="translate(0.00,0)" d="M0,0 C4,-4.5 11,-11 14.1,-19.5 L13.9,0 M4.6,-5 L16.4,-6.2"/><path transform="translate(18.40,0)" d="M2.1,-23.8 C1.8,-14 2,-4.98 2.6,-0.41"/><path transform="translate(25.00,0)" d="M2.3,-15.5 L4.5,-13.3 M2.5,-8.96 L3.5,-1"/><path transform="translate(33.00,0)" d="M10,-6.64 C10,-8.71 5,-9.13 2.5,-7.05 C0,-4.98 0,-1.24 4,-0.41 C7,0 9.5,0.25 11.7,0.41"/><path transform="translate(46.70,0)" d="M1.5,-3.73 C5,-4.15 10,-5.39 11.5,-7.05 C12.5,-8.71 9,-9.7 6,-8.9 C1.5,-7.47 -0.5,-3.32 1,-0.83 C3,2.07 9,2.07 14.3,0"/></g>
<g transform="translate(1622.80,148.60) scale(1.0366,1.0000)"><path transform="translate(0.00,0)" d="M0.4,-12.8 L4.6,-17.6 L4.1,-0.3"/><path transform="translate(8.00,0)" d="M5.5,-20.1 C2,-17 0,-12 0.3,-7 C0.5,-2 3,0 6,-0.3 C11,-1 15.5,-8 15.5,-12.5 C15.5,-17 12,-19.5 8,-19.7 C7,-19.7 6,-19.9 5.5,-20.1"/><path transform="translate(26.00,0)" d="M18.2,-20.1 C13,-19 7,-17 3.6,-14.9 C7,-12.5 14,-11 17,-9 C19,-7 16,-4.5 13,-3.8 C9,-2.8 3,-2 0.5,-2.5 C0,-3 1,-4.5 2.1,-5.6 M16.1,-27.4 L9.9,1.2"/></g>
<g transform="translate(1341.80,656.40) scale(1.0426,1.0000)"><path transform="translate(0.00,0)" d="M1.2,-13.8 C0,-6 1.5,-0.3 6.5,-0.2 C12,0 14,-5 14.3,-9 C14.5,-11 14.2,-13 14,-14.2"/><path transform="translate(16.50,0)" d="M8.5,-10.5 C6,-9.8 3,-9 0.3,-8.3 C3,-6 10,-5 11.5,-3 C12.5,-0.5 9,0.8 6,0.6 C4,0.5 2.5,-0.2 1.5,-1.3"/><path transform="translate(30.50,0)" d="M1.5,-3.73 C5,-4.15 10,-5.39 11.5,-7.05 C12.5,-8.71 9,-9.7 6,-8.9 C1.5,-7.47 -0.5,-3.32 1,-0.83 C3,2.07 9,2.07 14.3,0"/><path transform="translate(46.80,0)" d="M1.2,-8.3 L1.6,0 M1.6,-4.98 C3,-7.47 5,-9.13 9.6,-8.55"/></g>
<g transform="translate(1551.00,657.40) scale(0.9885,1.0000)"><path transform="translate(0.00,0)" d="M2.5,-19.5 L3,0 M0.5,-21 C8,-21.5 14.5,-19 14,-15 C13.5,-12 8,-10.8 3,-10.8 C12,-11 18.5,-8.5 18,-4.5 C17.5,-0.5 9,0.5 0.5,0"/><path transform="translate(20.70,0)" d="M12.5,-8.3 C8,-10.3 2,-8.8 0.5,-4.15 C-0.5,-0.83 4,0.41 7,-1.24 C9,-2.49 11,-4.98 12.5,-7.47 C12.5,-4.15 13.5,-0.83 16,0"/><path transform="translate(38.70,0)" d="M2.1,-23.8 C1.8,-14 2,-4.98 2.6,-0.41"/><path transform="translate(45.30,0)" d="M12.5,-8.3 C8,-10.3 2,-8.8 0.5,-4.15 C-0.5,-0.83 4,0.41 7,-1.24 C9,-2.49 11,-4.98 12.5,-7.47 C12.5,-4.15 13.5,-0.83 16,0"/><path transform="translate(63.30,0)" d="M1,-8.3 L1,0 M1,-4.15 C3,-8.3 10,-9.13 10.5,-4.98 L11,0"/><path transform="translate(76.60,0)" d="M10,-6.64 C10,-8.71 5,-9.13 2.5,-7.05 C0,-4.98 0,-1.24 4,-0.41 C7,0 9.5,0.25 11.7,0.41"/><path transform="translate(90.30,0)" d="M1.5,-3.73 C5,-4.15 10,-5.39 11.5,-7.05 C12.5,-8.71 9,-9.7 6,-8.9 C1.5,-7.47 -0.5,-3.32 1,-0.83 C3,2.07 9,2.07 14.3,0"/></g>
<g transform="translate(1344.00,704.40) scale(0.9508,1.0000)"><path transform="translate(0.00,0)" d="M0,0 C4,-4.5 11,-11 14.1,-19.5 L13.9,0 M4.6,-5 L16.4,-6.2"/><path transform="translate(18.40,0)" d="M2.1,-23.8 C1.8,-14 2,-4.98 2.6,-0.41"/><path transform="translate(25.00,0)" d="M2.3,-15.5 L4.5,-13.3 M2.5,-8.96 L3.5,-1"/><path transform="translate(33.00,0)" d="M10,-6.64 C10,-8.71 5,-9.13 2.5,-7.05 C0,-4.98 0,-1.24 4,-0.41 C7,0 9.5,0.25 11.7,0.41"/><path transform="translate(46.70,0)" d="M1.5,-3.73 C5,-4.15 10,-5.39 11.5,-7.05 C12.5,-8.71 9,-9.7 6,-8.9 C1.5,-7.47 -0.5,-3.32 1,-0.83 C3,2.07 9,2.07 14.3,0"/></g>
<g transform="translate(1569.60,702.80) scale(1.0171,1.0000)"><path transform="translate(0.00,0)" d="M0.4,-12.8 L4.6,-17.6 L4.1,-0.3"/><path transform="translate(8.00,0)" d="M5.5,-20.1 C2,-17 0,-12 0.3,-7 C0.5,-2 3,0 6,-0.3 C11,-1 15.5,-8 15.5,-12.5 C15.5,-17 12,-19.5 8,-19.7 C7,-19.7 6,-19.9 5.5,-20.1"/><path transform="translate(26.00,0)" d="M5.5,-20.1 C2,-17 0,-12 0.3,-7 C0.5,-2 3,0 6,-0.3 C11,-1 15.5,-8 15.5,-12.5 C15.5,-17 12,-19.5 8,-19.7 C7,-19.7 6,-19.9 5.5,-20.1"/><path transform="translate(44.00,0)" d="M18.2,-20.1 C13,-19 7,-17 3.6,-14.9 C7,-12.5 14,-11 17,-9 C19,-7 16,-4.5 13,-3.8 C9,-2.8 3,-2 0.5,-2.5 C0,-3 1,-4.5 2.1,-5.6 M16.1,-27.4 L9.9,1.2"/></g>
<g transform="translate(1343.00,749.20) scale(0.9443,1.0000)"><path transform="translate(0.00,0)" d="M0,0 C4,-4.5 11,-11 14.1,-19.5 L13.9,0 M4.6,-5 L16.4,-6.2"/><path transform="translate(18.40,0)" d="M2.1,-23.8 C1.8,-14 2,-4.98 2.6,-0.41"/><path transform="translate(25.00,0)" d="M2.3,-15.5 L4.5,-13.3 M2.5,-8.96 L3.5,-1"/><path transform="translate(33.00,0)" d="M10,-6.64 C10,-8.71 5,-9.13 2.5,-7.05 C0,-4.98 0,-1.24 4,-0.41 C7,0 9.5,0.25 11.7,0.41"/><path transform="translate(46.70,0)" d="M1.5,-3.73 C5,-4.15 10,-5.39 11.5,-7.05 C12.5,-8.71 9,-9.7 6,-8.9 C1.5,-7.47 -0.5,-3.32 1,-0.83 C3,2.07 9,2.07 14.3,0"/></g>
<g transform="translate(1573.40,747.60) scale(1.0349,1.0000)"><path transform="translate(0.00,0)" d="M13.3,-16.8 C10,-16 6,-16.5 2.7,-17.2 L0.6,-8.8 C4,-10.3 9,-11 11,-8 C13,-5 11,-0.5 6.5,0.2 C4,0.5 1.5,-0.5 0,-2.4"/><path transform="translate(16.00,0)" d="M5.5,-20.1 C2,-17 0,-12 0.3,-7 C0.5,-2 3,0 6,-0.3 C11,-1 15.5,-8 15.5,-12.5 C15.5,-17 12,-19.5 8,-19.7 C7,-19.7 6,-19.9 5.5,-20.1"/><path transform="translate(34.00,0)" d="M18.2,-20.1 C13,-19 7,-17 3.6,-14.9 C7,-12.5 14,-11 17,-9 C19,-7 16,-4.5 13,-3.8 C9,-2.8 3,-2 0.5,-2.5 C0,-3 1,-4.5 2.1,-5.6 M16.1,-27.4 L9.9,1.2"/></g>
</g>
<g class="t" fill="none" stroke="#1e1e1e" stroke-width="4.5" stroke-linecap="round" stroke-linejoin="round">
<g transform="translate(650.50,264.80) scale(1.8065,1.9286)"><path transform="translate(0.00,0)" d="M14.8,-17.2 C10,-15.5 5,-14 1.4,-13 C4,-10.5 10,-9 13,-7 C15,-5 13,-2 10,-1.7 C7,-1.3 3,-1.5 0,-4.2"/><path transform="translate(17.10,0)" d="M1.5,-3.73 C5,-4.15 10,-5.39 11.5,-7.05 C12.5,-8.71 9,-9.7 6,-8.9 C1.5,-7.47 -0.5,-3.32 1,-0.83 C3,2.07 9,2.07 14.3,0"/><path transform="translate(33.40,0)" d="M1.2,-8.3 L1.6,0 M1.6,-4.98 C3,-7.47 5,-9.13 9.6,-8.55"/><path transform="translate(45.00,0)" d="M0,-8.3 L6,0 L12.5,-9.13"/><path transform="translate(59.50,0)" d="M1.5,-3.73 C5,-4.15 10,-5.39 11.5,-7.05 C12.5,-8.71 9,-9.7 6,-8.9 C1.5,-7.47 -0.5,-3.32 1,-0.83 C3,2.07 9,2.07 14.3,0"/><path transform="translate(75.80,0)" d="M1.2,-8.3 L1.6,0 M1.6,-4.98 C3,-7.47 5,-9.13 9.6,-8.55"/><path transform="translate(100.40,0)" d="M0,0 C4,-4.5 11,-11 14.1,-19.5 L13.9,0 M4.6,-5 L16.4,-6.2"/></g>
<g transform="translate(663.00,810.50) scale(1.7926,1.9286)"><path transform="translate(0.00,0)" d="M14.8,-17.2 C10,-15.5 5,-14 1.4,-13 C4,-10.5 10,-9 13,-7 C15,-5 13,-2 10,-1.7 C7,-1.3 3,-1.5 0,-4.2"/><path transform="translate(17.10,0)" d="M1.5,-3.73 C5,-4.15 10,-5.39 11.5,-7.05 C12.5,-8.71 9,-9.7 6,-8.9 C1.5,-7.47 -0.5,-3.32 1,-0.83 C3,2.07 9,2.07 14.3,0"/><path transform="translate(33.40,0)" d="M1.2,-8.3 L1.6,0 M1.6,-4.98 C3,-7.47 5,-9.13 9.6,-8.55"/><path transform="translate(45.00,0)" d="M0,-8.3 L6,0 L12.5,-9.13"/><path transform="translate(59.50,0)" d="M1.5,-3.73 C5,-4.15 10,-5.39 11.5,-7.05 C12.5,-8.71 9,-9.7 6,-8.9 C1.5,-7.47 -0.5,-3.32 1,-0.83 C3,2.07 9,2.07 14.3,0"/><path transform="translate(75.80,0)" d="M1.2,-8.3 L1.6,0 M1.6,-4.98 C3,-7.47 5,-9.13 9.6,-8.55"/><path transform="translate(100.40,0) scale(1,0.900)" d="M2.5,-19.5 L3,0 M0.5,-21 C8,-21.5 14.5,-19 14,-15 C13.5,-12 8,-10.8 3,-10.8 C12,-11 18.5,-8.5 18,-4.5 C17.5,-0.5 9,0.5 0.5,0"/></g>
<g transform="translate(113.50,610.00) scale(1.9590,2.0357)"><path transform="translate(0.00,0)" d="M0,0 C4,-4.5 11,-11 14.1,-19.5 L13.9,0 M4.6,-5 L16.4,-6.2"/><path transform="translate(18.40,0)" d="M2.1,-23.8 C1.8,-14 2,-4.98 2.6,-0.41"/><path transform="translate(25.00,0)" d="M2.3,-15.5 L4.5,-13.3 M2.5,-8.96 L3.5,-1"/><path transform="translate(33.00,0) scale(1,1.200)" d="M10,-6.64 C10,-8.71 5,-9.13 2.5,-7.05 C0,-4.98 0,-1.24 4,-0.41 C7,0 9.5,0.25 11.7,0.41"/><path transform="translate(46.70,0) scale(1,1.150)" d="M1.5,-3.73 C5,-4.15 10,-5.39 11.5,-7.05 C12.5,-8.71 9,-9.7 6,-8.9 C1.5,-7.47 -0.5,-3.32 1,-0.83 C3,2.07 9,2.07 14.3,0"/></g>
</g>
</svg>
</body>
</html>
